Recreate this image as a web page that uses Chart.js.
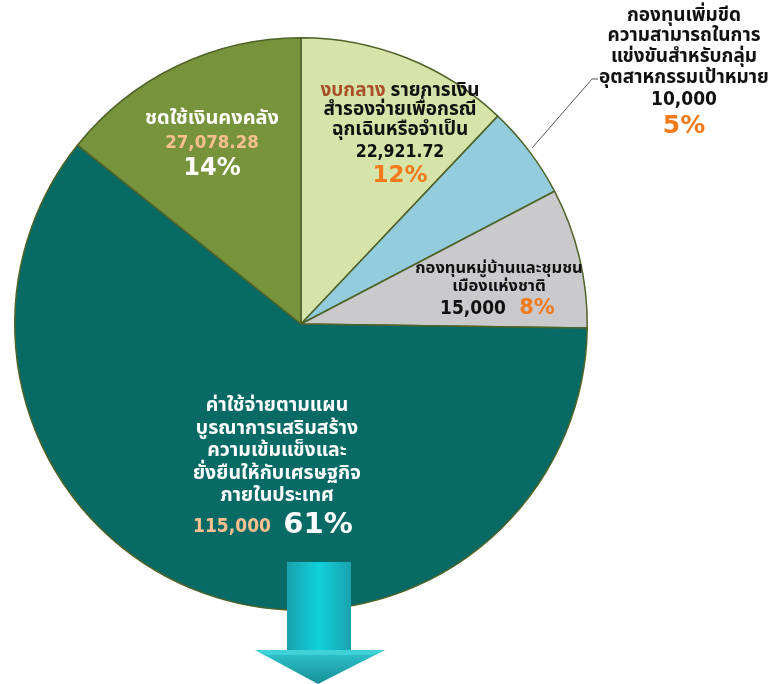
<!DOCTYPE html>
<html><head><meta charset="utf-8">
<script src="https://cdn.jsdelivr.net/npm/chart.js@4.4.1/dist/chart.umd.min.js"></script>
<style>html,body{margin:0;padding:0;background:#fff}canvas{display:block}</style>
</head><body>
<canvas id="c" width="771" height="684"></canvas>
<script>
// Budget items, clockwise from 12 o'clock
const categoryLines = [
  ['งบกลาง รายการเงิน', 'สำรองจ่ายเพื่อกรณี', 'ฉุกเฉินหรือจำเป็น'],
  ['กองทุนเพิ่มขีด', 'ความสามารถในการ', 'แข่งขันสำหรับกลุ่ม', 'อุตสาหกรรมเป้าหมาย'],
  ['กองทุนหมู่บ้านและชุมชน', 'เมืองแห่งชาติ'],
  ['ค่าใช้จ่ายตามแผน', 'บูรณาการเสริมสร้าง', 'ความเข้มแข็งและ', 'ยั่งยืนให้กับเศรษฐกิจ', 'ภายในประเทศ'],
  ['ชดใช้เงินคงคลัง']
];
const values = [22921.72, 10000, 15000, 115000, 27078.28];
const percentLabels = ['12%', '5%', '8%', '61%', '14%'];
const categories = categoryLines.map(l => l.join(''));

const THAI = '"Noto Sans Thai", "Noto Sans Thai UI", Tahoma, "DejaVu Sans", sans-serif';
const VAL = '"DejaVu Sans Condensed", "DejaVu Sans", sans-serif';
const PCT = '"DejaVu Sans", Tahoma, sans-serif';
const ORANGE = '#f27a1a';
const PEACH = '#fac090';

function fmt(v) {
  return v.toLocaleString('en-US', { maximumFractionDigits: 2 });
}

function txt(ctx, s, x, y, font, color, align) {
  ctx.font = font;
  ctx.fillStyle = color;
  ctx.textAlign = align || 'center';
  ctx.textBaseline = 'middle';
  ctx.fillText(s, x, y);
}

const labelPlugin = {
  id: 'sliceLabels',
  afterDatasetsDraw(chart) {
    const ctx = chart.ctx;
    ctx.save();
    // slice 0: contingency reserve
    {
      const x = 400, f = 'bold 19px ' + THAI;
      const first = categoryLines[0][0];
      const head = 'งบกลาง';
      const rest = first.slice(head.length);
      ctx.font = f;
      const w1 = ctx.measureText(head).width, w2 = ctx.measureText(rest).width;
      const x0 = x - (w1 + w2) / 2;
      txt(ctx, head, x0, 92, f, '#a9502a', 'left');
      txt(ctx, rest, x0 + w1, 92, f, '#111', 'left');
      txt(ctx, categoryLines[0][1], x, 111, f, '#111');
      txt(ctx, categoryLines[0][2], x, 131, f, '#111');
      txt(ctx, fmt(values[0]), x, 152, 'bold 17.5px ' + VAL, '#111');
      txt(ctx, percentLabels[0], x, 176, 'bold 23px ' + PCT, ORANGE);
    }
    // slice 1: competitiveness fund (outside, with leader line)
    {
      const x = 684, f = 'bold 19px ' + THAI;
      [17, 37, 58, 79].forEach((y, k) => txt(ctx, categoryLines[1][k], x, y, f, '#111'));
      txt(ctx, fmt(values[1]), x, 100, 'bold 19px ' + VAL, '#111');
      txt(ctx, percentLabels[1], x, 126, 'bold 25px ' + PCT, ORANGE);
      ctx.strokeStyle = '#555';
      ctx.lineWidth = 1;
      ctx.beginPath();
      ctx.moveTo(532, 148);
      ctx.lineTo(592, 79);
      ctx.lineTo(598, 79);
      ctx.stroke();
    }
    // slice 2: village fund
    {
      const x = 499, f = 'bold 16.5px ' + THAI;
      txt(ctx, categoryLines[2][0], x, 270, f, '#111');
      txt(ctx, categoryLines[2][1], x, 288, f, '#111');
      txt(ctx, fmt(values[2]), 473, 309, 'bold 19px ' + VAL, '#111');
      txt(ctx, percentLabels[2], 537, 309, 'bold 21px ' + PCT, ORANGE);
    }
    // slice 3: economic strengthening plan
    {
      const x = 277, f = 'bold 19.5px ' + THAI;
      [407, 430, 452, 475, 497].forEach((y, k) => txt(ctx, categoryLines[3][k], x, y, f, '#fff'));
      txt(ctx, fmt(values[3]), 232, 527, 'bold 19px ' + VAL, PEACH);
      txt(ctx, percentLabels[3], 318, 525, 'bold 29px ' + PCT, '#fff');
    }
    // slice 4: treasury reimbursement
    {
      const x = 212;
      txt(ctx, categoryLines[4][0], x, 120, 'bold 20px ' + THAI, '#fff');
      txt(ctx, fmt(values[4]), x, 143, 'bold 18.5px ' + VAL, PEACH);
      txt(ctx, percentLabels[4], x, 169, 'bold 24px ' + PCT, '#fff');
    }
    ctx.restore();
  },
  afterDraw(chart) {
    // downward arrow below the pie
    const ctx = chart.ctx;
    ctx.save();
    const cx = 318, sL = 287, sR = 351, sTop = 562, hTop = 650, hL = 255, hR = 385, tip = 684;
    let g = ctx.createLinearGradient(sL, 0, sR, 0);
    g.addColorStop(0, '#1aa2ad');
    g.addColorStop(0.5, '#0fd0da');
    g.addColorStop(1, '#1aa2ad');
    ctx.fillStyle = g;
    ctx.fillRect(sL, sTop, sR - sL, hTop - sTop + 1);
    // head with a lighter upper bevel
    let g2 = ctx.createLinearGradient(0, hTop, 0, tip);
    g2.addColorStop(0, '#2fc6cf');
    g2.addColorStop(1, '#178f98');
    ctx.fillStyle = g2;
    ctx.beginPath();
    ctx.moveTo(hL, hTop);
    ctx.lineTo(hR, hTop);
    ctx.lineTo(cx, tip);
    ctx.closePath();
    ctx.fill();
    ctx.fillStyle = 'rgba(80,220,228,0.55)';
    ctx.beginPath();
    ctx.moveTo(hL, hTop);
    ctx.lineTo(hR, hTop);
    ctx.lineTo(hR - 12, hTop + 5);
    ctx.lineTo(hL + 12, hTop + 5);
    ctx.closePath();
    ctx.fill();
    ctx.restore();
  }
};

new Chart(document.getElementById('c'), {
  type: 'pie',
  data: {
    labels: categories,
    datasets: [{
      data: values,
      backgroundColor: ['#d7e4a9', '#93cddd', '#cac9cc', '#086a65', '#77933c'],
      borderColor: '#4f6228',
      borderWidth: 1.5
    }]
  },
  options: {
    responsive: false,
    animation: false,
    layout: { padding: { left: 14, top: 37, right: 183, bottom: 73 } },
    plugins: { legend: { display: false }, tooltip: { enabled: false } }
  },
  plugins: [labelPlugin]
});
</script>
</body></html>
